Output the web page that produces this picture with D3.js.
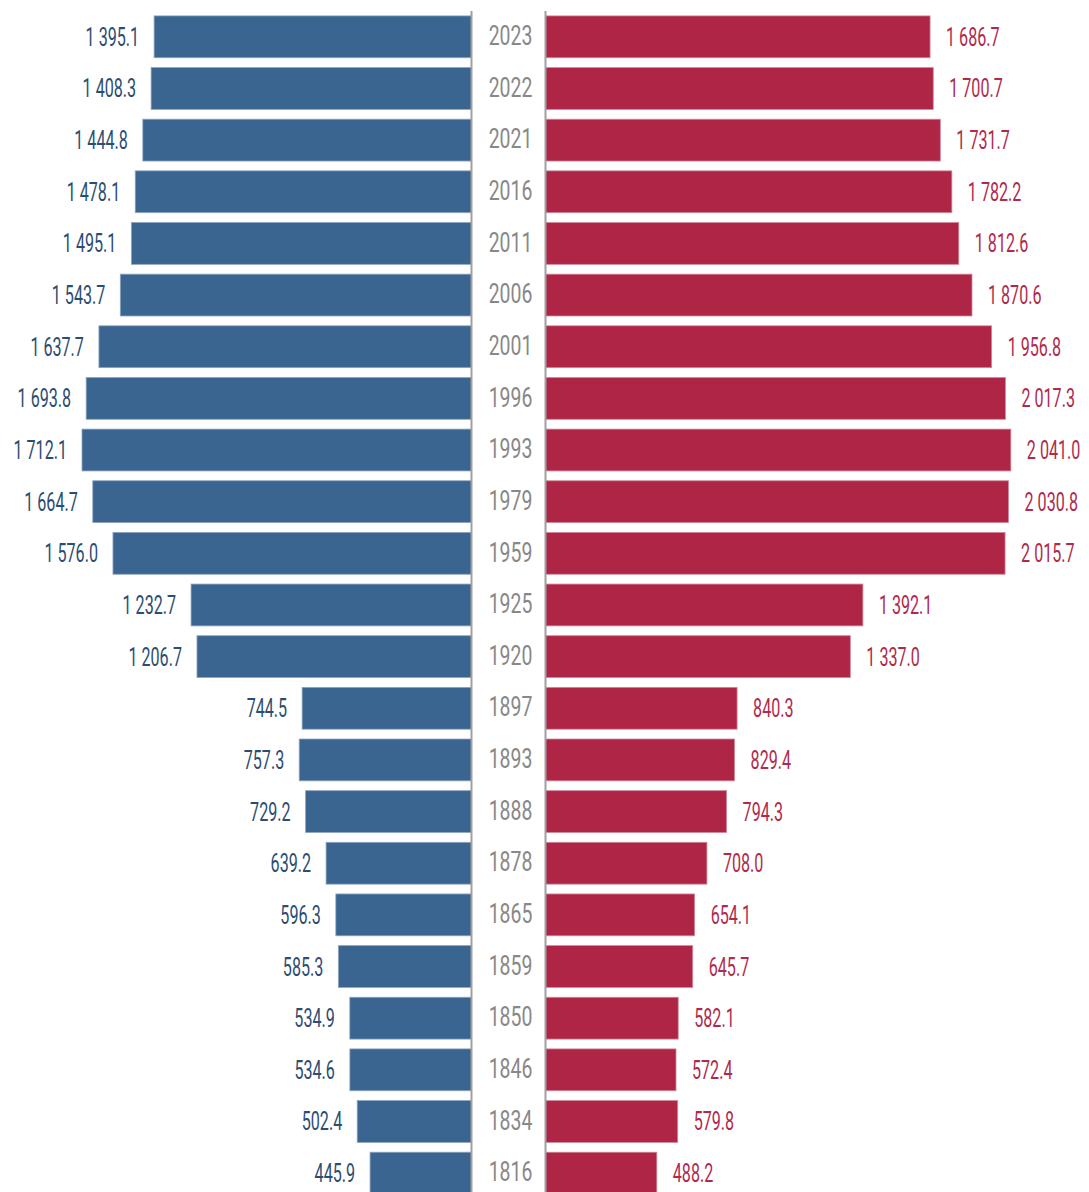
<!DOCTYPE html>
<html><head><meta charset="utf-8">
<script src="https://cdn.jsdelivr.net/npm/d3@7"></script>
<style>body{margin:0;background:#fff}svg{display:block}</style>
</head><body>
<svg id="c" width="1089" height="1192"></svg>
<script>
const years = ["2023","2022","2021","2016","2011","2006","2001","1996","1993","1979","1959","1925","1920","1897","1893","1888","1878","1865","1859","1850","1846","1834","1816"];
const leftValues = [1395.1,1408.3,1444.8,1478.1,1495.1,1543.7,1637.7,1693.8,1712.1,1664.7,1576.0,1232.7,1206.7,744.5,757.3,729.2,639.2,596.3,585.3,534.9,534.6,502.4,445.9];
const rightValues = [1686.7,1700.7,1731.7,1782.2,1812.6,1870.6,1956.8,2017.3,2041.0,2030.8,2015.7,1392.1,1337.0,840.3,829.4,794.3,708.0,654.1,645.7,582.1,572.4,579.8,488.2];

const W = 1089, H = 1192;
const leftAxis = 471.5, rightAxis = 545.5;
const svg = d3.select("#c");
const fmt = d3.formatLocale({decimal:".", thousands:" ", grouping:[3]}).format(",.1f");

const y = d3.scaleBand().domain(years).range([11, 11 + 51.65*23]).paddingInner(0.19).paddingOuter(0.095);
const xL = d3.scaleLinear().domain([0, 2000]).range([leftAxis, leftAxis - 455]);
const xR = d3.scaleLinear().domain([0, 2000]).range([rightAxis, rightAxis + 456]);

const FONT = "Roboto, 'DejaVu Sans Condensed', sans-serif";
const blue = "#3a6590", red = "#ae2546";

// bars
svg.append("g").selectAll("rect").data(years).join("rect")
  .attr("x", (d,i)=>xL(leftValues[i])).attr("y", d=>y(d))
  .attr("width", (d,i)=>leftAxis - xL(leftValues[i])).attr("height", y.bandwidth())
  .attr("fill", blue).attr("stroke","#8ea5bf").attr("stroke-width",0.8);
svg.append("g").selectAll("rect").data(years).join("rect")
  .attr("x", rightAxis).attr("y", d=>y(d))
  .attr("width", (d,i)=>xR(rightValues[i]) - rightAxis).attr("height", y.bandwidth())
  .attr("fill", red).attr("stroke","#d08a9a").attr("stroke-width",0.8);

// axis lines
[leftAxis, rightAxis].forEach(x=>{
  svg.append("line").attr("x1",x).attr("x2",x).attr("y1",11).attr("y2",H)
    .attr("stroke","#a0a0a0").attr("stroke-width",2);
});

const sx = 0.62;
// left labels
svg.append("g").selectAll("text").data(years).join("text")
  .attr("transform",(d,i)=>`translate(${xL(leftValues[i]) - 15},${y(d)+y.bandwidth()/2}) scale(${sx},1)`)
  .attr("text-anchor","end").attr("dominant-baseline","central")
  .attr("font-family",FONT).attr("font-weight",400).attr("font-size",26)
  .attr("fill","#2c4d72").text((d,i)=>fmt(leftValues[i]));
// right labels
svg.append("g").selectAll("text").data(years).join("text")
  .attr("transform",(d,i)=>`translate(${xR(rightValues[i]) + 16},${y(d)+y.bandwidth()/2}) scale(${sx},1)`)
  .attr("text-anchor","start").attr("dominant-baseline","central")
  .attr("font-family",FONT).attr("font-weight",400).attr("font-size",26)
  .attr("fill","#b02a4c").text((d,i)=>fmt(rightValues[i]));
// years
svg.append("g").selectAll("text").data(years).join("text")
  .attr("transform",d=>`translate(${(leftAxis+rightAxis)/2 + 2},${y(d)+y.bandwidth()/2 - 1}) scale(0.72,1)`)
  .attr("text-anchor","middle").attr("dominant-baseline","central")
  .attr("font-family",FONT).attr("font-weight",400).attr("font-size",27)
  .attr("fill","#888888").text(d=>d);
</script>
</body></html>
